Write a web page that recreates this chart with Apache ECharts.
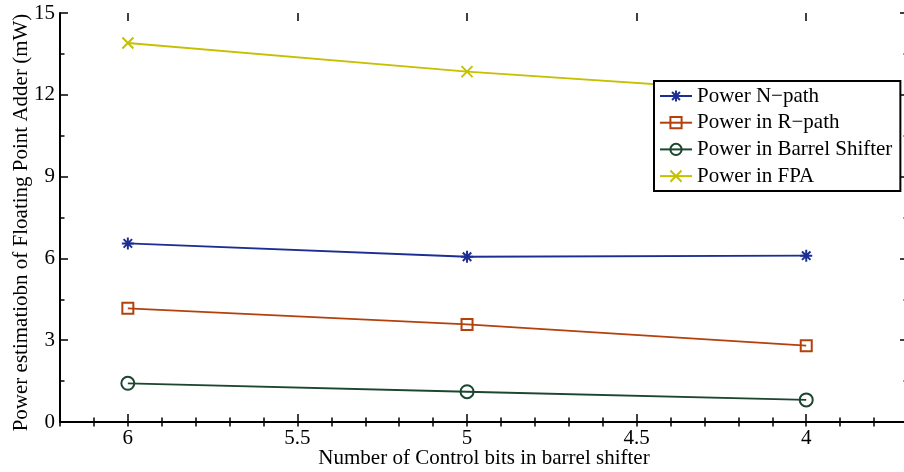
<!DOCTYPE html>
<html>
<head>
<meta charset="utf-8">
<script src="https://cdn.jsdelivr.net/npm/echarts@6/dist/echarts.min.js"></script>
<style>
  html, body { margin: 0; padding: 0; background: #ffffff; }
  #chart { width: 904px; height: 472px; }
</style>
</head>
<body>
<div id="chart"></div>
<script>
// Number of control bits in the barrel shifter (x positions)
const controlBits = [6, 5, 4];

// Power estimates in mW
const powerNPath = [6.55, 6.06, 6.10];
const powerRPath = [4.17, 3.58, 2.80];
const powerBarrel = [1.42, 1.11, 0.81];
const powerFPA = [13.90, 12.85, 12.02];

const seriesNames = ['Power N\u2212path', 'Power in R\u2212path', 'Power in Barrel Shifter', 'Power in FPA'];
const seriesColors = ['#1c2e92', '#b4400c', '#1b4630', '#c6c000'];

const yTicks = [0, 3, 6, 9, 12, 15];

const serif = '"Liberation Serif", "DejaVu Serif", serif';
const FONT_SIZE = 21;

function pairs(values) {
  return controlBits.map((x, i) => [x, values[i]]);
}

const ASTERISK = 'path://M0,-10L0,10M-10,0L10,0M-7.07,-7.07L7.07,7.07M-7.07,7.07L7.07,-7.07';
const CROSS = 'path://M-10,-10L10,10M-10,10L10,-10';

function makeSeries(idx, values, symbol, size) {
  const c = seriesColors[idx];
  return {
    name: seriesNames[idx],
    type: 'line',
    xAxisIndex: 0,
    yAxisIndex: 0,
    data: pairs(values),
    symbol: symbol,
    symbolSize: size,
    showAllSymbol: true,
    lineStyle: { color: c, width: 1.8 },
    itemStyle: { color: 'rgba(255,255,255,0)', borderColor: c, borderWidth: 2 },
    emphasis: { disabled: true },
    animation: false,
    z: 3
  };
}

const axisLineStyle = { show: true, lineStyle: { color: '#000', width: 2 } };
const fineTick = { show: true, inside: true, length: 4.5, lineStyle: { color: '#000', width: 1.5 } };
const majorTick = { show: true, inside: true, length: 8, lineStyle: { color: '#000', width: 1.5 } };

const chart = echarts.init(document.getElementById('chart'), null, { renderer: 'canvas' });

chart.setOption({
  backgroundColor: '#ffffff',
  animation: false,
  grid: [
    { left: 60, right: -4, top: 13, bottom: 50, outerBoundsMode: 'none', containLabel: false },
    { left: 60, right: -71.84, top: 13, bottom: 50, outerBoundsMode: 'none', containLabel: false }
  ],
  legend: {
    orient: 'vertical',
    left: 654,
    top: 81,
    padding: [4, 8, 4, 5],
    itemGap: 4.7,
    itemWidth: 32,
    itemHeight: 14,
    backgroundColor: '#ffffff',
    borderColor: '#000',
    borderWidth: 2,
    borderRadius: 0,
    selectedMode: false,
    textStyle: { fontFamily: serif, fontSize: FONT_SIZE, color: '#000', lineHeight: 22 },
    data: seriesNames
  },
  xAxis: [
    {
      // fine ticks every 0.1 along the bottom edge, plus the axis title
      type: 'value', gridIndex: 0, position: 'bottom', inverse: true,
      min: 3.7, max: 6.2, interval: 0.1,
      axisLine: axisLineStyle,
      axisTick: fineTick,
      axisLabel: { show: false },
      splitLine: { show: false },
      name: 'Number of Control bits in barrel shifter',
      nameLocation: 'middle',
      nameGap: 26,
      nameMoveOverlap: false,
      nameTextStyle: { fontFamily: serif, fontSize: FONT_SIZE, color: '#000' }
    },
    {
      // fine ticks every 0.1 along the top edge
      type: 'value', gridIndex: 0, position: 'top', inverse: true,
      min: 3.7, max: 6.2, interval: 0.1,
      axisLine: axisLineStyle,
      axisTick: fineTick,
      axisLabel: { show: false },
      splitLine: { show: false }
    },
    {
      // major ticks and labels every 0.5
      type: 'value', gridIndex: 1, position: 'bottom', inverse: true,
      min: 3.5, max: 6.2, interval: 0.5,
      axisLine: { show: false },
      axisTick: majorTick,
      axisLabel: {
        show: true, margin: 6, color: '#000', fontFamily: serif, fontSize: FONT_SIZE,
        formatter: v => (v > 6.05 ? '' : String(v))
      },
      splitLine: { show: false }
    },
    {
      type: 'value', gridIndex: 1, position: 'top', inverse: true,
      min: 3.5, max: 6.2, interval: 0.5,
      axisLine: { show: false },
      axisTick: majorTick,
      axisLabel: { show: false },
      splitLine: { show: false }
    }
  ],
  yAxis: [
    {
      type: 'value', gridIndex: 0, position: 'left',
      min: yTicks[0], max: yTicks[yTicks.length - 1], interval: yTicks[1] - yTicks[0],
      axisLine: axisLineStyle,
      axisTick: majorTick,
      minorTick: { show: true, splitNumber: 2, length: 4.5, lineStyle: { color: '#000', width: 1.5 } },
      axisLabel: { show: true, margin: 5, color: '#000', fontFamily: serif, fontSize: FONT_SIZE },
      splitLine: { show: false },
      name: 'Power estimatiobn of Floating Point Adder (mW)',
      nameLocation: 'middle',
      nameGap: 28,
      nameMoveOverlap: false,
      nameTextStyle: { fontFamily: serif, fontSize: FONT_SIZE, color: '#000', padding: [0, 10, 0, 0] }
    },
    {
      type: 'value', gridIndex: 0, position: 'right',
      min: yTicks[0], max: yTicks[yTicks.length - 1], interval: yTicks[1] - yTicks[0],
      axisLine: axisLineStyle,
      axisTick: majorTick,
      minorTick: { show: true, splitNumber: 2, length: 4.5, lineStyle: { color: '#000', width: 1.5 } },
      axisLabel: { show: false },
      splitLine: { show: false }
    },
    {
      type: 'value', gridIndex: 1, show: false, min: 0, max: 15
    }
  ],
  series: [
    makeSeries(0, powerNPath, ASTERISK, 12),
    makeSeries(1, powerRPath, 'rect', 11),
    makeSeries(2, powerBarrel, 'circle', 13),
    makeSeries(3, powerFPA, CROSS, 11)
  ]
});
</script>
</body>
</html>
